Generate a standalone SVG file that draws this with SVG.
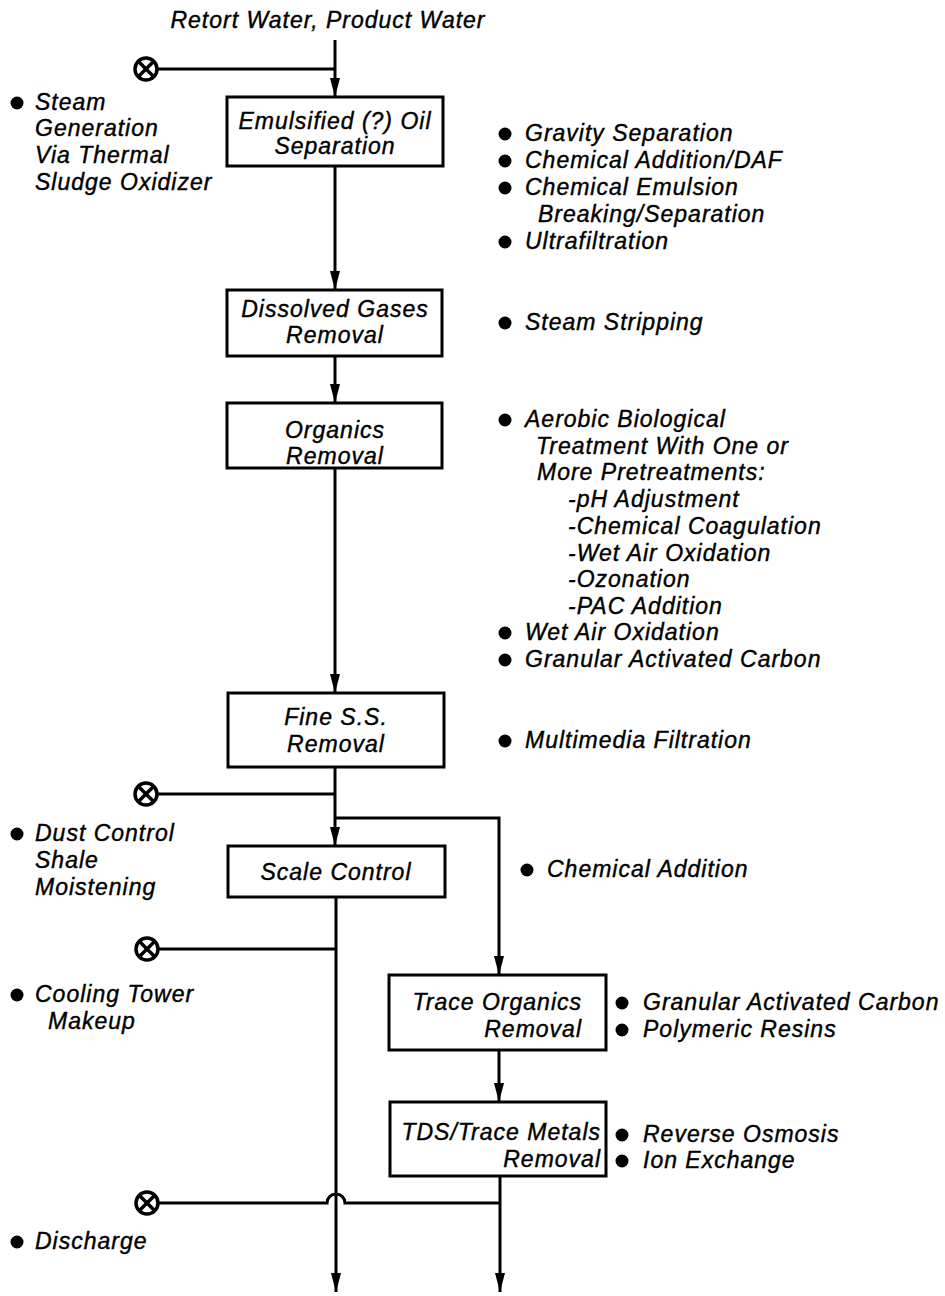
<svg xmlns="http://www.w3.org/2000/svg" width="945" height="1296" viewBox="0 0 945 1296">
<style>
text{font-family:"Liberation Sans",Arial,Helvetica,sans-serif;font-style:italic;font-size:23px;letter-spacing:1px;fill:#000;stroke:#000;stroke-width:0.4px}
.c{text-anchor:middle}
.r{text-anchor:end}
.box{fill:#fff;stroke:#000;stroke-width:3}
.ln{fill:none;stroke:#000;stroke-width:3}
.ax{fill:none;stroke:#000;stroke-width:3.5}
.b{fill:#000}
</style>
<defs>
<marker id="arr" markerUnits="userSpaceOnUse" markerWidth="19" markerHeight="10" refX="19" refY="5" orient="auto" viewBox="0 0 19 10">
<path d="M0,0 L19,5 L0,10 z" fill="#000"/>
</marker>
<g id="valve">
<circle cx="0" cy="0" r="11" class="ax"/>
<path d="M-7.8,-7.8 L7.8,7.8 M-7.8,7.8 L7.8,-7.8" class="ax"/>
</g>
</defs>
<rect width="945" height="1296" fill="#fff"/>

<g id="connectors">
<path class="ln" d="M335,40 V97" marker-end="url(#arr)"/>
<path class="ln" d="M158,69 H335"/>
<path class="ln" d="M335,166 V290" marker-end="url(#arr)"/>
<path class="ln" d="M335,356 V403" marker-end="url(#arr)"/>
<path class="ln" d="M335,468 V693" marker-end="url(#arr)"/>
<path class="ln" d="M335,767 V846" marker-end="url(#arr)"/>
<path class="ln" d="M158,794 H335"/>
<path class="ln" d="M335,818 H499 V975" marker-end="url(#arr)"/>
<path class="ln" d="M336,897 V1292" marker-end="url(#arr)"/>
<path class="ln" d="M159,949 H336"/>
<path class="ln" d="M499,1050 V1102" marker-end="url(#arr)"/>
<path class="ln" d="M500,1176 V1292" marker-end="url(#arr)"/>
<path class="ln" d="M159,1203 H327 A9,9 0 0 1 345,1203 H500"/>
</g>

<g id="input"><text class="c" x="328" y="28">Retort Water, Product Water</text></g>

<g id="v1"><use href="#valve" x="146" y="69"/></g>
<g id="v2"><use href="#valve" x="146" y="794"/></g>
<g id="v3"><use href="#valve" x="147" y="949"/></g>
<g id="v4"><use href="#valve" x="147" y="1203"/></g>

<g id="oil">
<rect class="box" x="227" y="97" width="216" height="69"/>
<text class="c" x="335" y="129">Emulsified (?) Oil</text>
<text class="c" x="335" y="154">Separation</text>
</g>
<g id="gases">
<rect class="box" x="227" y="290" width="215" height="66"/>
<text class="c" x="335" y="317">Dissolved Gases</text>
<text class="c" x="335" y="343">Removal</text>
</g>
<g id="organics">
<rect class="box" x="227" y="403" width="215" height="65"/>
<text class="c" x="335" y="438">Organics</text>
<text class="c" x="335" y="464">Removal</text>
</g>
<g id="finess">
<rect class="box" x="228" y="693" width="216" height="74"/>
<text class="c" x="336" y="725">Fine S.S.</text>
<text class="c" x="336" y="752">Removal</text>
</g>
<g id="scale">
<rect class="box" x="228" y="846" width="217" height="51"/>
<text class="c" x="336" y="880">Scale Control</text>
</g>
<g id="traceorg">
<rect class="box" x="389" y="975" width="217" height="75"/>
<text class="r" x="582" y="1010">Trace Organics</text>
<text class="r" x="582" y="1037">Removal</text>
</g>
<g id="tds">
<rect class="box" x="390" y="1102" width="216" height="74"/>
<text class="r" x="601" y="1140">TDS/Trace Metals</text>
<text class="r" x="601" y="1167">Removal</text>
</g>

<g id="steam-notes">
<circle class="b" cx="17" cy="103" r="6.5"/>
<text x="35" y="110">Steam</text>
<text x="35" y="136">Generation</text>
<text x="35" y="163">Via Thermal</text>
<text x="35" y="190">Sludge Oxidizer</text>
</g>
<g id="oil-notes">
<circle class="b" cx="505" cy="134" r="6.5"/>
<text x="525" y="141">Gravity Separation</text>
<circle class="b" cx="505" cy="161" r="6.5"/>
<text x="525" y="168">Chemical Addition/DAF</text>
<circle class="b" cx="505" cy="188" r="6.5"/>
<text x="525" y="195">Chemical Emulsion</text>
<text x="538" y="222">Breaking/Separation</text>
<circle class="b" cx="505" cy="242" r="6.5"/>
<text x="525" y="249">Ultrafiltration</text>
</g>
<g id="gases-notes">
<circle class="b" cx="505" cy="323" r="6.5"/>
<text x="525" y="330">Steam Stripping</text>
</g>
<g id="organics-notes">
<circle class="b" cx="505" cy="420" r="6.5"/>
<text x="525" y="427">Aerobic Biological</text>
<text x="536" y="454">Treatment With One or</text>
<text x="537" y="480">More Pretreatments:</text>
<text x="568" y="507">-pH Adjustment</text>
<text x="568" y="534">-Chemical Coagulation</text>
<text x="568" y="561">-Wet Air Oxidation</text>
<text x="568" y="587">-Ozonation</text>
<text x="568" y="614">-PAC Addition</text>
<circle class="b" cx="505" cy="633" r="6.5"/>
<text x="525" y="640">Wet Air Oxidation</text>
<circle class="b" cx="505" cy="660" r="6.5"/>
<text x="525" y="667">Granular Activated Carbon</text>
</g>
<g id="finess-notes">
<circle class="b" cx="505" cy="741" r="6.5"/>
<text x="525" y="748">Multimedia Filtration</text>
</g>
<g id="dust-notes">
<circle class="b" cx="17" cy="834" r="6.5"/>
<text x="35" y="841">Dust Control</text>
<text x="35" y="868">Shale</text>
<text x="35" y="895">Moistening</text>
</g>
<g id="chem-notes">
<circle class="b" cx="527" cy="870" r="6.5"/>
<text x="547" y="877">Chemical Addition</text>
</g>
<g id="cooling-notes">
<circle class="b" cx="17" cy="995" r="6.5"/>
<text x="35" y="1002">Cooling Tower</text>
<text x="48" y="1029">Makeup</text>
</g>
<g id="traceorg-notes">
<circle class="b" cx="622" cy="1003" r="6.5"/>
<text x="643" y="1010">Granular Activated Carbon</text>
<circle class="b" cx="622" cy="1030" r="6.5"/>
<text x="643" y="1037">Polymeric Resins</text>
</g>
<g id="tds-notes">
<circle class="b" cx="622" cy="1135" r="6.5"/>
<text x="643" y="1142">Reverse Osmosis</text>
<circle class="b" cx="622" cy="1161" r="6.5"/>
<text x="643" y="1168">Ion Exchange</text>
</g>
<g id="discharge-notes">
<circle class="b" cx="17" cy="1242" r="6.5"/>
<text x="35" y="1249">Discharge</text>
</g>
</svg>
